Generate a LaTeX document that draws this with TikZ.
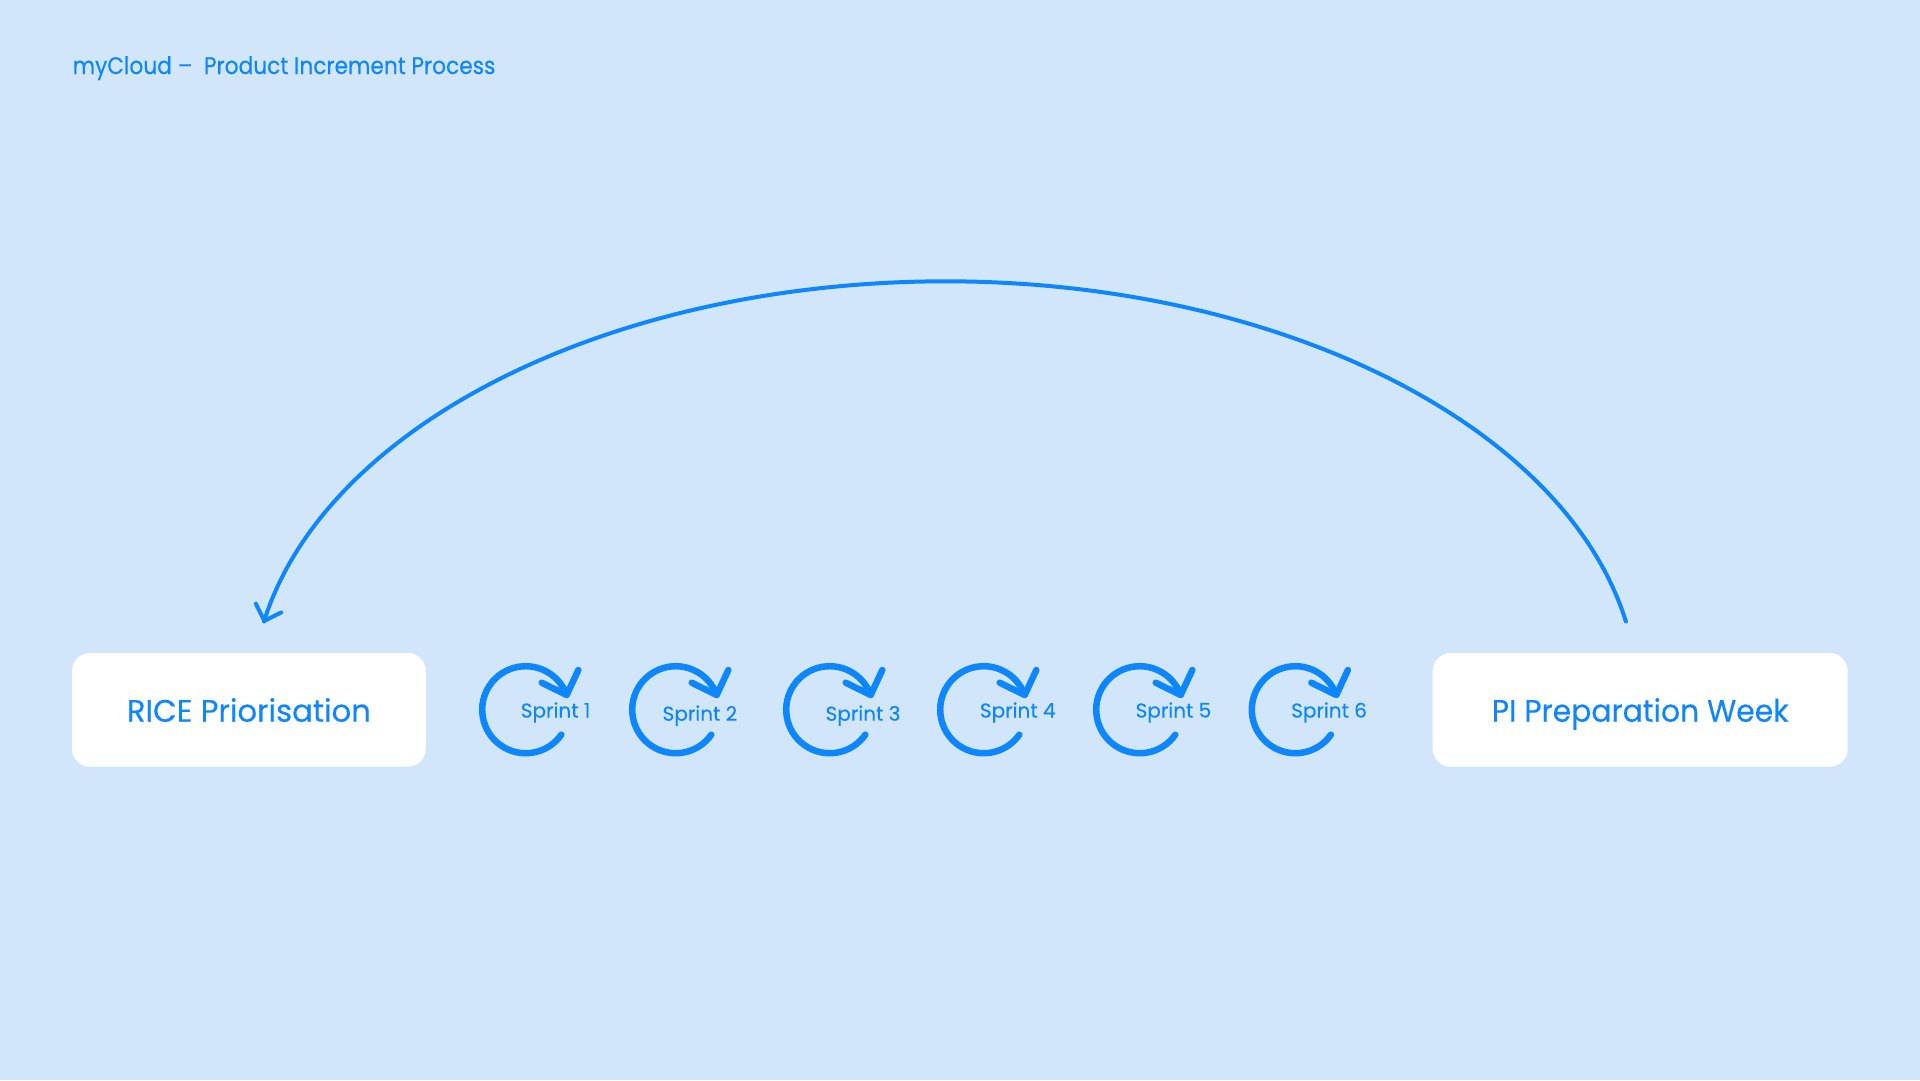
\documentclass[tikz,border=0pt]{standalone}
\usepackage{fontspec}
\setmainfont[FakeBold=0.3]{Poppins}
\definecolor{bgblue}{HTML}{D1E6FB}
\definecolor{inkblue}{HTML}{0E86FF}
\tikzset{
  x=1pt,y=-1pt,
  card/.style={fill=white,rounded corners=18pt,inner sep=0pt,text=inkblue,anchor=base,
    minimum width=#1,text height=68.7pt,text depth=45pt,font=\fontsize{31}{36}\selectfont},
  sprintlabel/.style={anchor=base west,inner sep=0pt,text=inkblue,font=\fontsize{20}{24}\selectfont},
  titletext/.style={anchor=base west,inner sep=0pt,text=inkblue,font=\fontsize{24}{28}\selectfont},
  loopline/.style={draw=inkblue,line width=4pt,line cap=round,line join=round},
  sprinticon/.pic={
    \draw[draw=inkblue,line width=6.5pt,line cap=round,line join=round]
      (-35:43.5pt) arc[start angle=-35,end angle=-340,radius=43.5pt];
    \draw[draw=inkblue,line width=6.5pt,line cap=round,line join=round]
      (16,-27) -- (41,-14.7) -- (52.6,-39.7);
  }
}
\begin{document}
\begin{tikzpicture}
\useasboundingbox (0,0) rectangle (1920,1080);
\fill[bgblue] (0,0) rectangle (1920,1080);
\node[titletext] (title) at (72.5,74) {\addfontfeature{FakeStretch=0.905}myCloud –\ \ Product Increment Process};
\node[card=353.7pt] (rice) at (248.9,721.7) {\addfontfeature{FakeStretch=0.99}RICE Priorisation};
\node[card=415pt] (prep) at (1640.2,721.7) {\addfontfeature{FakeStretch=0.962}PI Preparation Week};
\pic at (525.7,709.7) {sprinticon};
\pic at (675.7,709.7) {sprinticon};
\pic at (829.7,709.7) {sprinticon};
\pic at (983.7,709.7) {sprinticon};
\pic at (1139.7,709.7) {sprinticon};
\pic at (1295.3,709.7) {sprinticon};
\node[sprintlabel] (s1) at (520.6,717.5) {Sprint 1};
\node[sprintlabel] (s2) at (662.4,720.7) {Sprint 2};
\node[sprintlabel] (s3) at (825.4,720.7) {Sprint 3};
\node[sprintlabel] (s4) at (979.7,717.5) {Sprint 4};
\node[sprintlabel] (s5) at (1135.4,717.5) {Sprint 5};
\node[sprintlabel] (s6) at (1291,717.5) {Sprint 6};
\coordinate (arcstart) at (1625.9,621.5);
\coordinate (arcend) at (264.3,620.9);
\coordinate (headl) at (255.8,603.6);
\coordinate (headr) at (281.2,612.5);
\draw[loopline] (arcstart) arc[start angle=10.68,end angle=169.32,x radius=693pt,y radius=417.5pt];
\draw[loopline] (headl) -- (arcend) -- (headr);
\end{tikzpicture}
\end{document}
